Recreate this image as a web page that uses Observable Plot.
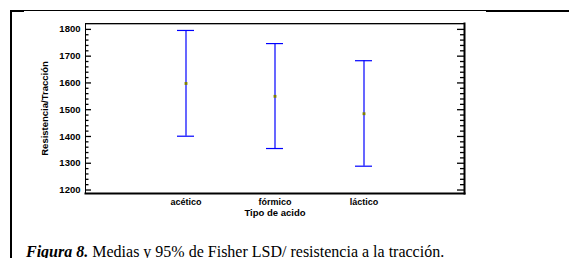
<!DOCTYPE html>
<html><head><meta charset="utf-8">
<script src="https://cdn.jsdelivr.net/npm/d3@7"></script>
<script src="https://cdn.jsdelivr.net/npm/@observablehq/plot@0.6"></script>
<style>
html,body{margin:0;padding:0;background:#fff;}
#wrap{position:relative;width:570px;height:258px;overflow:hidden;background:#fff;}
#chart{position:absolute;left:0;top:0;}
.ln{position:absolute;background:#000;}
#cap{position:absolute;left:26px;top:243.5px;font-family:"Liberation Serif","Times New Roman",serif;font-size:16px;line-height:16px;white-space:nowrap;color:#000;}
</style></head><body>
<div id="wrap">
 <div id="chart"></div>
 <div class="ln" style="left:10px;top:10px;width:476px;height:1px"></div>
 <div class="ln" style="left:486px;top:10px;width:83px;height:2px"></div>
 <div class="ln" style="left:10px;top:10px;width:14px;height:2px"></div>
 <div class="ln" style="left:10px;top:10px;width:2px;height:248px"></div>
 <div id="cap"><b><i>Figura 8.</i></b> Medias y 95% de Fisher LSD/ resistencia a la tracción.</div>
</div>
<script>
const acids = ["acético", "fórmico", "láctico"];
const means = [1598, 1550, 1485];
const lower = [1401, 1355, 1289];
const upper = [1796, 1747, 1683];
const yTicks = [1200, 1300, 1400, 1500, 1600, 1700, 1800];
const yMinorTicks = d3.range(1200, 1801, 20).filter(v => v % 100 !== 0);
const xLabel = "Tipo de acido";
const yLabel = "Resistencia/Tracción";

const W = 570, H = 232, ML = 85, MR = 106, MT = 23, MB = 39;
const FW = W - ML - MR;
const data = acids.map((a, i) => ({acid: a, mean: means[i], lo: lower[i], hi: upper[i]}));

const plot = Plot.plot({
  width: W, height: H,
  marginLeft: ML, marginRight: MR, marginTop: MT, marginBottom: MB,
  style: {fontFamily: "'Liberation Sans', Arial, sans-serif", background: "#fff", color: "#000", overflow: "visible"},
  x: {type: "band", domain: acids, paddingInner: 0.809, paddingOuter: 1.0335, axis: null},
  y: {domain: [1187, 1822], axis: null},
  marks: [
    Plot.frame({anchor: "top", stroke: "#aaa", dy: 1}),
    Plot.frame({stroke: "#000", strokeWidth: 1}),
    Plot.frame({anchor: "bottom", stroke: "#000", strokeWidth: 2}),
    Plot.frame({anchor: "right", stroke: "#000", strokeWidth: 2}),
    Plot.tickY(yTicks, {y: d => d, insetRight: FW - 6, stroke: "#000", strokeWidth: 1.3}),
    Plot.tickY(yMinorTicks, {y: d => d, insetRight: FW - 3.5, stroke: "#000", strokeWidth: 1.3}),
    Plot.tickY(yTicks, {y: d => d, insetLeft: FW - 7, stroke: "#000", strokeWidth: 1.3}),
    Plot.tickY(yMinorTicks, {y: d => d, insetLeft: FW - 4, stroke: "#000", strokeWidth: 1.3}),
    Plot.axisY(yTicks, {anchor: "left", tickSize: 0, tickPadding: 5, tickFormat: d => String(d), fontWeight: "bold", fontSize: 9.5, label: null}),
    Plot.axisX({anchor: "bottom", tickSize: 0, tickPadding: 5, fontWeight: "bold", fontSize: 9, label: null}),
    Plot.text([xLabel], {frameAnchor: "bottom", dy: 22, fontWeight: "bold", fontSize: 9.5}),
    Plot.text([yLabel], {frameAnchor: "left", textAnchor: "middle", dx: -40.5, rotate: -90, fontWeight: "bold", fontSize: 9.5}),
    Plot.ruleX(data, {x: "acid", y1: "lo", y2: "hi", stroke: "#0000ff", strokeWidth: 1.2}),
    Plot.tickY(data, {x: "acid", y: "hi", stroke: "#0000ff", strokeWidth: 1.2}),
    Plot.tickY(data, {x: "acid", y: "lo", stroke: "#0000ff", strokeWidth: 1.2}),
    Plot.dot(data, {x: "acid", y: "mean", symbol: "square", r: 1.6, fill: "#7f7f00", stroke: null})
  ]
});
document.getElementById("chart").appendChild(plot);
</script>
</body></html>
